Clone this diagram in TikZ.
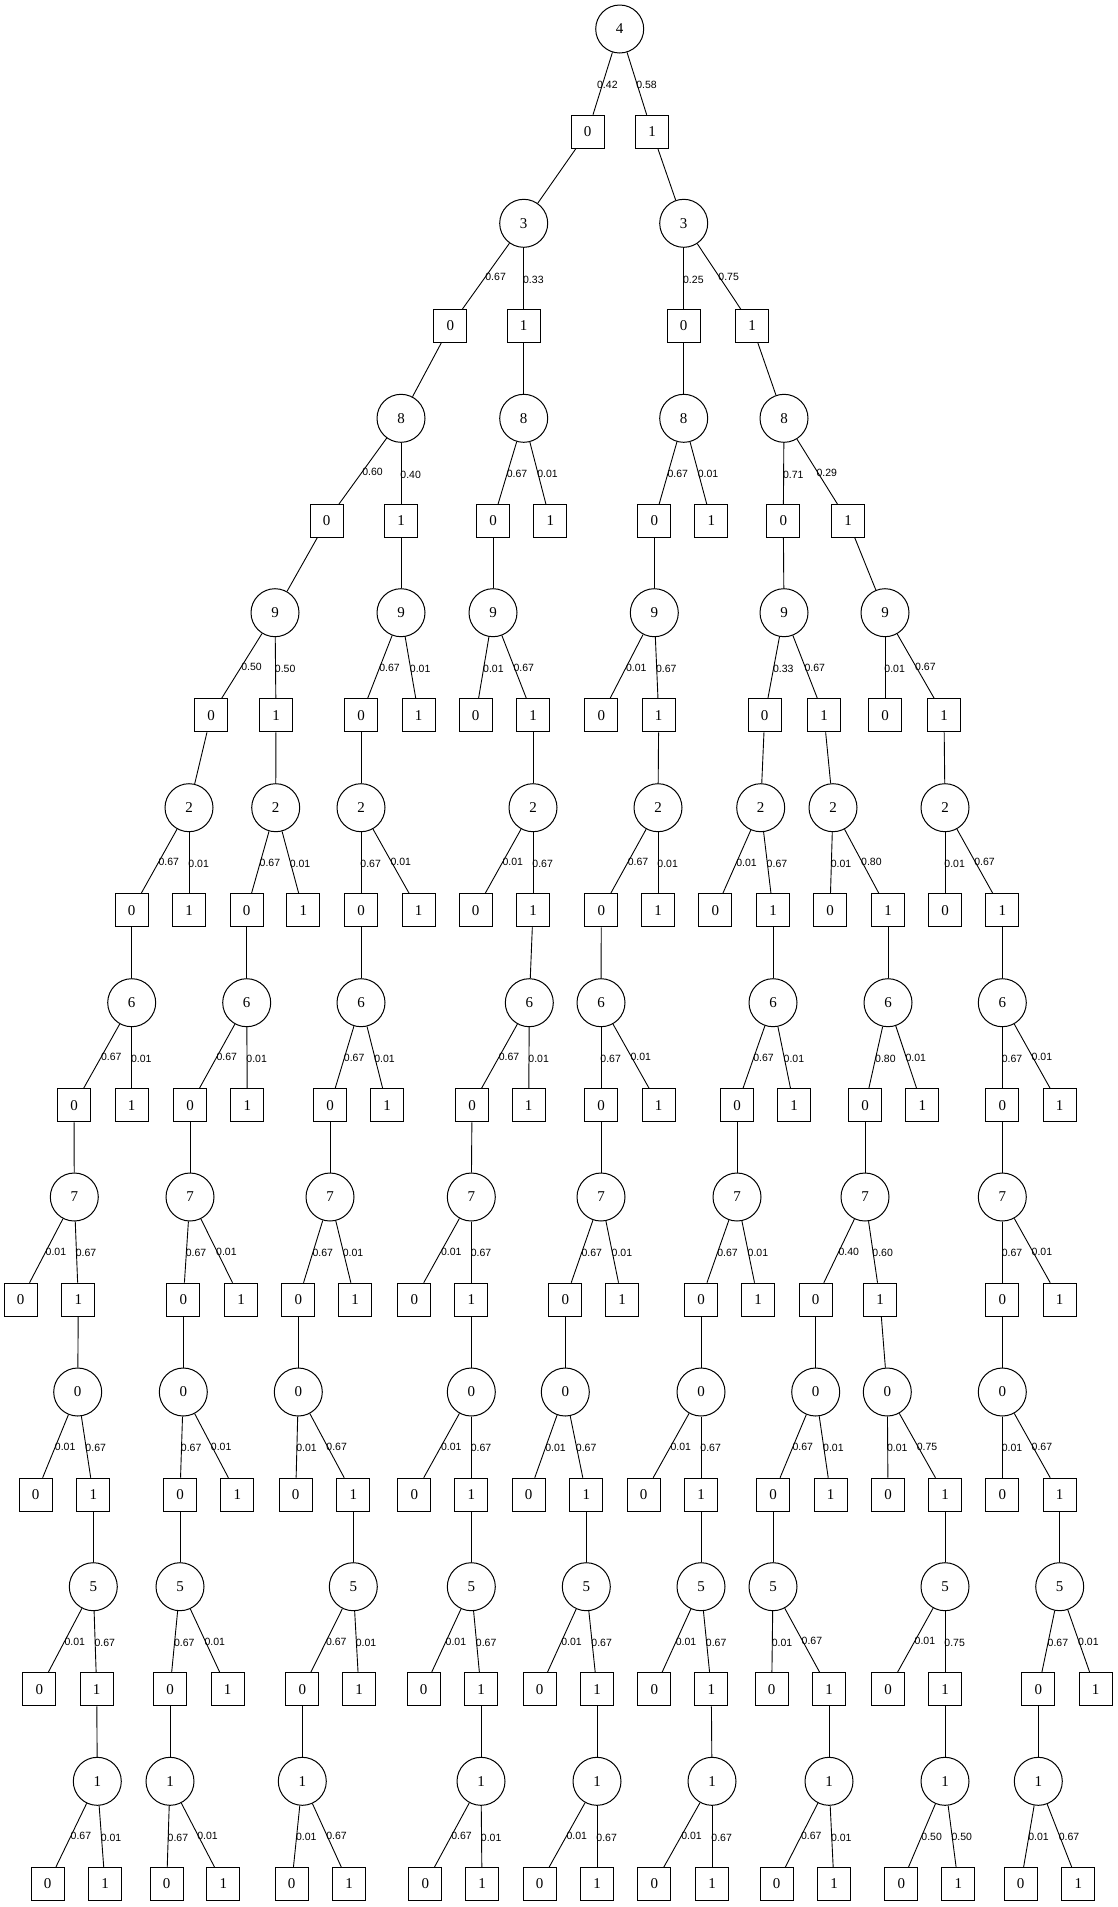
\documentclass[tikz,border=0pt]{standalone}
\usepackage{fontspec}
\setmainfont{Liberation Serif}
\newfontfamily\lblfont{Liberation Sans}
\tikzset{
  cn/.style={circle, draw, line width=1pt, minimum size=48pt, inner sep=0pt, font=\fontsize{15}{15}\selectfont},
  sq/.style={rectangle, draw, line width=1pt, minimum size=33pt, inner sep=0pt, font=\fontsize{15}{15}\selectfont},
  lbl/.style={font=\lblfont\fontsize{10.5}{10.5}\selectfont, anchor=west, inner sep=0pt, xshift=-1pt, yshift=-1pt, pos=0.5},
  edg/.style={line width=0.9pt}
}
% name, digit, cx, cy, s0x, s1x, p0, p1, parent
\newcommand{\lev}[9]{%
  \node[cn] (#1) at (#3,-#4) {#2};
  \node[sq] (#1-0) at (#5,{-#4-102.7}) {0};
  \node[sq] (#1-1) at (#6,{-#4-102.7}) {1};
  \draw[edg] (#9) -- (#1);
  \draw[edg] (#1) -- node[lbl]{#7} (#1-0);
  \draw[edg] (#1) -- node[lbl]{#8} (#1-1);
}
\begin{document}
\begin{tikzpicture}[x=1pt,y=1pt]
\useasboundingbox[fill=white] (0,0) rectangle (1117,-1907);
% root
\node[cn] (r) at (619.7,-29) {4};
\node[sq] (r-0) at (587.7,-131.7) {0};
\node[sq] (r-1) at (652,-131.7) {1};
\draw[edg] (r) -- node[lbl, xshift=-5pt]{0.42} (r-0);
\draw[edg] (r) -- node[lbl]{0.58} (r-1);
% left main
\lev{b}{3}{523.7}{223.3}{450.3}{523.7}{0.67}{0.33}{r-0}
\lev{c}{8}{401}{418.3}{326.7}{401}{0.60}{0.40}{b-0}
\lev{d}{9}{275}{612.7}{211}{276}{0.50}{0.50}{c-0}
\lev{e}{2}{189}{807.7}{131.7}{189}{0.67}{0.01}{d-0}
\lev{f}{6}{131.7}{1002.7}{74}{131.7}{0.67}{0.01}{e-0}
\lev{g}{7}{74.3}{1197}{20.7}{78.3}{0.01}{0.67}{f-0}
\lev{h}{0}{77.7}{1392}{35.7}{93.3}{0.01}{0.67}{g-1}
\lev{i}{5}{93.3}{1586.7}{39.3}{96.7}{0.01}{0.67}{h-1}
\lev{j}{1}{97.3}{1781.3}{47.7}{105}{0.67}{0.01}{i-1}
% chain 2
\lev{e2}{2}{275.7}{807.7}{246.7}{303.3}{0.67}{0.01}{d-1}
\lev{f2}{6}{246.7}{1002.7}{190}{247.3}{0.67}{0.01}{e2-0}
\lev{g2}{7}{190}{1197}{183.3}{241}{0.67}{0.01}{f2-0}
\lev{h2}{0}{183.3}{1392}{180}{237.3}{0.67}{0.01}{g2-0}
\lev{i2}{5}{180}{1586.7}{170}{227.7}{0.67}{0.01}{h2-0}
\lev{j2}{1}{170}{1781.3}{166.7}{223.3}{0.67}{0.01}{i2-0}
% chain 3
\lev{d3}{9}{401}{612.7}{361}{418.7}{0.67}{0.01}{c-1}
\lev{e3}{2}{361}{807.7}{361}{418.7}{0.67}{0.01}{d3-0}
\lev{f3}{6}{361}{1002.7}{330}{387}{0.67}{0.01}{e3-0}
\lev{g3}{7}{330}{1197}{298.3}{355}{0.67}{0.01}{f3-0}
\lev{h3}{0}{298.3}{1392}{295.7}{353.3}{0.01}{0.67}{g3-0}
\lev{i3}{5}{353.3}{1586.7}{302.3}{359}{0.67}{0.01}{h3-1}
\lev{j3}{1}{302.3}{1781.3}{291.7}{349}{0.01}{0.67}{i3-0}
% chain 4
\lev{c4}{8}{523.7}{418.3}{493}{550.3}{0.67}{0.01}{b-1}
\lev{d4}{9}{493}{612.7}{475.7}{533}{0.01}{0.67}{c4-0}
\lev{e4}{2}{533}{807.7}{475.7}{533}{0.01}{0.67}{d4-1}
\lev{f4}{6}{529.3}{1002.7}{472}{528.7}{0.67}{0.01}{e4-1}
\lev{g4}{7}{471.3}{1197}{414.3}{471.3}{0.01}{0.67}{f4-0}
\lev{h4}{0}{471.3}{1392}{414.3}{471.3}{0.01}{0.67}{g4-1}
\lev{i4}{5}{471.3}{1586.7}{423.7}{481}{0.01}{0.67}{h4-1}
\lev{j4}{1}{481}{1781.3}{425.3}{482}{0.67}{0.01}{i4-1}
% right main
\lev{b5}{3}{683.7}{223.3}{683.7}{752}{0.25}{0.75}{r-1}
\lev{c5}{8}{683.7}{418.3}{654.3}{711.3}{0.67}{0.01}{b5-0}
\lev{d5}{9}{654.3}{612.7}{601.3}{658.7}{0.01}{0.67}{c5-0}
\lev{e5}{2}{658}{807.7}{601.3}{658}{0.67}{0.01}{d5-1}
\lev{f5}{6}{601}{1002.7}{601}{658.7}{0.67}{0.01}{e5-0}
\lev{g5}{7}{601}{1197}{565.3}{622}{0.67}{0.01}{f5-0}
\lev{h5}{0}{565.3}{1392}{528.7}{586.3}{0.01}{0.67}{g5-0}
\lev{i5}{5}{586.3}{1586.7}{539.7}{597}{0.01}{0.67}{h5-1}
\lev{j5}{1}{597}{1781.3}{539.7}{597}{0.01}{0.67}{i5-1}
% chain 6
\lev{c6}{8}{784}{418.3}{783.3}{848}{0.71}{0.29}{b5-1}
\lev{d6}{9}{784}{612.7}{764.7}{824}{0.33}{0.67}{c6-0}
\lev{e6}{2}{760.7}{807.7}{715.3}{773}{0.01}{0.67}{d6-0}
\lev{f6}{6}{773}{1002.7}{737}{794}{0.67}{0.01}{e6-1}
\lev{g6}{7}{737}{1197}{701}{758}{0.67}{0.01}{f6-0}
\lev{h6}{0}{701}{1392}{643.7}{701}{0.01}{0.67}{g6-0}
\lev{i6}{5}{701}{1586.7}{654.3}{711.3}{0.01}{0.67}{h6-1}
\lev{j6}{1}{712}{1781.3}{654.3}{712}{0.01}{0.67}{i6-1}
% chain 7
\lev{e7}{2}{833}{807.7}{830}{888}{0.01}{0.80}{d6-1}
\lev{f7}{6}{888}{1002.7}{865}{922.3}{0.80}{0.01}{e7-1}
\lev{g7}{7}{865}{1197}{815.7}{880}{0.40}{0.60}{f7-0}
\lev{h7}{0}{815.7}{1392}{773}{830.7}{0.67}{0.01}{g7-0}
\lev{i7}{5}{773}{1586.7}{771.7}{829}{0.01}{0.67}{h7-0}
\lev{j7}{1}{829}{1781.3}{776.7}{834}{0.67}{0.01}{i7-1}
\lev{h8}{0}{887.3}{1392}{888}{945}{0.01}{0.75}{g7-1}
\lev{i8}{5}{945}{1586.7}{888}{945}{0.01}{0.75}{h8-1}
\lev{j8}{1}{945}{1781.3}{901.3}{958.3}{0.50}{0.50}{i8-1}
% chain 9
\lev{d9}{9}{885}{612.7}{885}{944}{0.01}{0.67}{c6-1}
\lev{e9}{2}{945}{807.7}{945}{1002.3}{0.01}{0.67}{d9-1}
\lev{f9}{6}{1002.3}{1002.7}{1002.3}{1059.7}{0.67}{0.01}{e9-1}
\lev{g9}{7}{1002.3}{1197}{1002.3}{1059.7}{0.67}{0.01}{f9-0}
\lev{h9}{0}{1002.3}{1392}{1002.3}{1059.7}{0.01}{0.67}{g9-0}
\lev{i9}{5}{1059.7}{1586.7}{1038.3}{1095.7}{0.67}{0.01}{h9-1}
\lev{j9}{1}{1038.3}{1781.3}{1020.7}{1078.3}{0.01}{0.67}{i9-0}
\end{tikzpicture}
\end{document}
